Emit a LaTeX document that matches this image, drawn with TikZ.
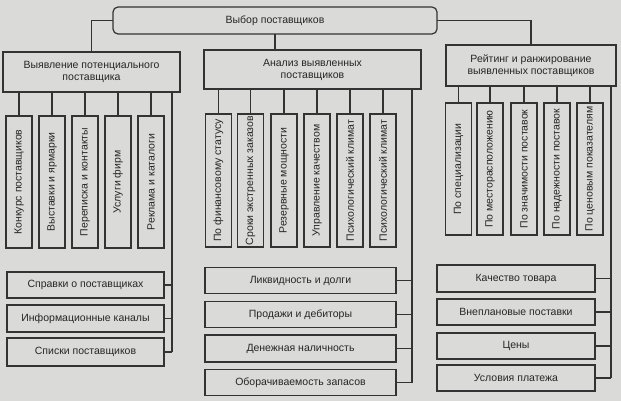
\documentclass[tikz,border=0pt]{standalone}
\usepackage{fontspec}
\setmainfont{Liberation Sans}
\begin{document}
\begin{tikzpicture}[x=1pt,y=-1pt,
  every node/.style={font=\fontsize{10.5}{12}\selectfont, text=black!85},
  box/.style={draw=black!80, line width=1.2pt, fill=paper, inner sep=1pt, outer sep=0pt, align=center},
  vbox/.style={box, minimum width=26pt, minimum height=132pt},
  hbox/.style={box, minimum height=26pt},
  link/.style={draw=black!80, line width=1.2pt}]
\definecolor{paper}{RGB}{218,218,216}
\fill[paper] (0,0) rectangle (621,401);
\useasboundingbox (0,0) rectangle (621,401);
% top
\node[box, rounded corners=5pt, minimum width=324pt, minimum height=27pt] (top) at (275,20.5) {Выбор поставщиков};
% level 2
\node[box, minimum width=177pt, minimum height=40pt] (L) at (91.5,72) {Выявление потенциального\\поставщика};
\node[box, minimum width=217pt, minimum height=39pt] (M) at (312.5,69.5) {Анализ выявленных\\поставщиков};
\node[box, minimum width=170pt, minimum height=41pt] (R) at (531,65.5) {Рейтинг и ранжирование\\выявленных поставщиков};
\draw[link] (top.west) -| (L.north);
\draw[link] (top.east) -| (R.north);
\draw[link] (top.south) -- (top.south |- M.north);
% left vertical boxes
\node[vbox, label={[rotate=90]center:Конкурс поставщиков}] (l1) at (19,182) {};
\node[vbox, label={[rotate=90]center:Выставки и ярмарки}] (l2) at (52,182) {};
\node[vbox, label={[rotate=90]center:Переписка и контакты}] (l3) at (85,182) {};
\node[vbox, label={[rotate=90]center:Услуги фирм}] (l4) at (118,182) {};
\node[vbox, label={[rotate=90]center:Реклама и каталоги}] (l5) at (151,182) {};
\foreach \n in {l1,l2,l3,l4,l5} \draw[link] (L.south -| \n.north) -- (\n.north);
% left horizontal boxes
\node[hbox, minimum width=157pt] (lb1) at (85.5,285) {Справки о поставщиках};
\node[hbox, minimum width=157pt, minimum height=27pt] (lb2) at (85.5,318.5) {Информационные каналы};
\node[hbox, minimum width=157pt, minimum height=28pt] (lb3) at (85.5,352) {Списки поставщиков};
\coordinate (Lbus) at (172,352);
\draw[link] (L.south -| Lbus) -- (Lbus);
\foreach \n in {lb1,lb2,lb3} \draw[link] (\n.east) -- (\n.east -| Lbus);
% middle vertical boxes
\node[vbox, minimum height=133pt, label={[rotate=90]center:По финансовому статусу}] (m1) at (218.5,180.5) {};
\node[vbox, minimum height=133pt, label={[rotate=90]center:Сроки экстренных заказов}] (m2) at (250.5,180.5) {};
\node[vbox, minimum height=133pt, label={[rotate=90]center:Резервные мощности}] (m3) at (284,180.5) {};
\node[vbox, minimum height=133pt, label={[rotate=90]center:Управление качеством}] (m4) at (317,180.5) {};
\node[vbox, minimum height=133pt, label={[rotate=90]center:Психологический климат}] (m5) at (350,180.5) {};
\node[vbox, minimum height=133pt, label={[rotate=90]center:Психологический климат}] (m6) at (383,180.5) {};
\foreach \n in {m1,m2,m3,m4,m5,m6} \draw[link] (M.south -| \n.north) -- (\n.north);
% middle horizontal boxes
\node[hbox, minimum width=191pt] (mb1) at (300.5,280.5) {Ликвидность и долги};
\node[hbox, minimum width=191pt] (mb2) at (300.5,314.5) {Продажи и дебиторы};
\node[hbox, minimum width=191pt, minimum height=27pt] (mb3) at (300.5,348.5) {Денежная наличность};
\node[hbox, minimum width=191pt] (mb4) at (300.5,382.5) {Оборачиваемость запасов};
\coordinate (Mbus) at (412,382.5);
\draw[link] (M.south -| Mbus) -- (Mbus);
\foreach \n in {mb1,mb2,mb3,mb4} \draw[link] (\n.east) -- (\n.east -| Mbus);
% right vertical boxes
\node[vbox, label={[rotate=90]center:По специализации}] (r1) at (458.5,169) {};
\node[vbox, label={[rotate=90]center:По месторасположению}] (r2) at (490,169) {};
\node[vbox, label={[rotate=90]center:По значимости поставок}] (r3) at (524,169) {};
\node[vbox, label={[rotate=90]center:По надежности поставок}] (r4) at (557,169) {};
\node[vbox, label={[rotate=90]center:По ценовым показателям}] (r5) at (590,169) {};
\foreach \n in {r1,r2,r3,r4,r5} \draw[link] (R.south -| \n.north) -- (\n.north);
% right horizontal boxes
\node[hbox, minimum width=158pt, minimum height=27pt] (rb1) at (516,278.5) {Качество товара};
\node[hbox, minimum width=158pt] (rb2) at (516,312) {Внеплановые поставки};
\node[hbox, minimum width=158pt] (rb3) at (516,346) {Цены};
\node[hbox, minimum width=158pt] (rb4) at (516,378) {Условия платежа};
\coordinate (Rbus) at (611,378);
\draw[link] (R.south -| Rbus) -- (Rbus);
\foreach \n in {rb1,rb2,rb3,rb4} \draw[link] (\n.east) -- (\n.east -| Rbus);
\end{tikzpicture}
\end{document}
